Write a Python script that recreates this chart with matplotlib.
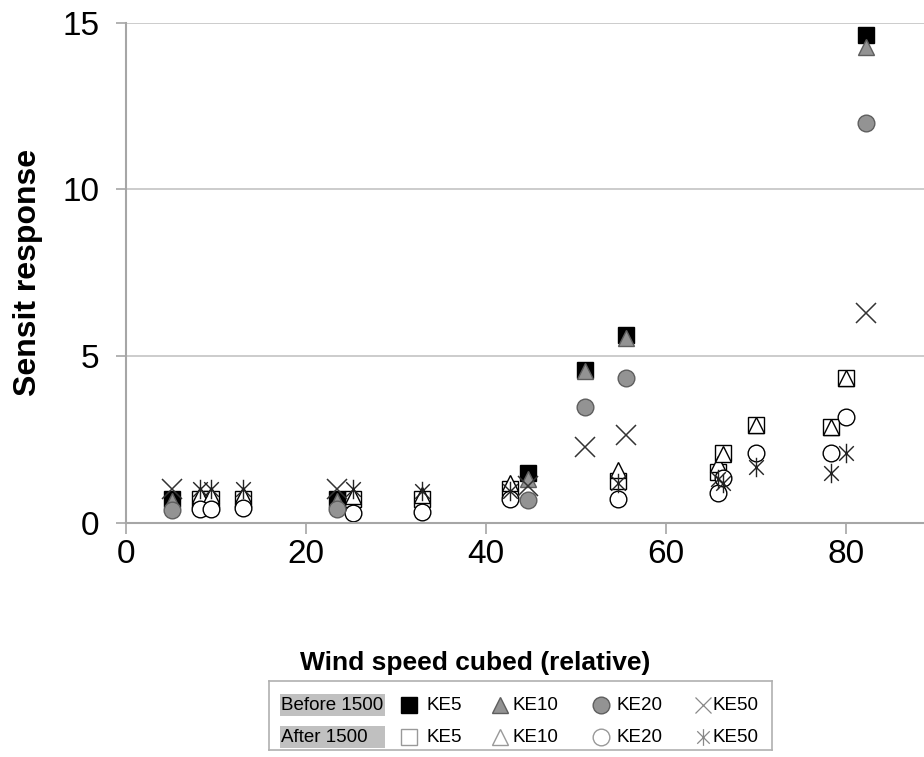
import matplotlib
matplotlib.use("Agg")
import matplotlib.pyplot as plt
from matplotlib.path import Path
from matplotlib.patches import Rectangle

plt.rcParams['font.family'] = ['Liberation Sans', 'DejaVu Sans']

# before 1500 (filled markers)
before_x = [5.1, 23.4, 44.7, 51.0, 55.6, 82.3]
before_ke5 = [0.72, 0.72, 1.50, 4.58, 5.63, 14.63]
before_ke10 = [0.65, 0.65, 1.30, 4.55, 5.55, 14.28]
before_ke20 = [0.38, 0.42, 0.68, 3.48, 4.34, 12.0]
before_ke50 = [1.0, 1.0, 1.1, 2.28, 2.63, 6.29]

# after 1500 (open markers)
after_x = [8.2, 9.5, 13.0, 25.2, 32.9, 42.7, 54.7, 65.8, 66.4, 70.0, 78.4, 80.0]
after_ke5 = [0.7, 0.7, 0.7, 0.72, 0.72, 1.0, 1.25, 1.53, 2.08, 2.93, 2.88, 4.34]
after_ke10 = [0.82, 0.82, 0.82, 0.8, 0.82, 1.2, 1.58, 1.75, 2.05, 2.93, 2.88, 4.34]
after_ke20 = [0.42, 0.42, 0.45, 0.3, 0.33, 0.72, 0.7, 0.88, 1.35, 2.09, 2.09, 3.18]
after_ke50 = [1.0, 1.0, 1.0, 1.02, 0.95, 0.95, 1.18, 1.3, 1.2, 1.68, 1.48, 2.09]

x_ticks = [0, 20, 40, 60, 80]
y_ticks = [0, 5, 10, 15]

GRAY = '#939393'
GRAY_EDGE = '#5e5e5e'

# asterisk: vertical bar plus an X
star = Path([(0, -1), (0, 1), (-0.75, -0.75), (0.75, 0.75), (-0.75, 0.75), (0.75, -0.75)],
            [Path.MOVETO, Path.LINETO, Path.MOVETO, Path.LINETO, Path.MOVETO, Path.LINETO])

styles_before = [
    dict(marker='s', color='black', mec='black', ms=11),
    dict(marker='^', color=GRAY, mec=GRAY_EDGE, ms=12),
    dict(marker='o', color=GRAY, mec=GRAY_EDGE, ms=12),
    dict(marker='x', color='#333333', ms=14, mew=1.1),
]
styles_after = [
    dict(marker='s', mfc='white', mec='black', ms=11, mew=1.0),
    dict(marker='^', mfc='white', mec='black', ms=12, mew=1.0),
    dict(marker='o', mfc='white', mec='black', ms=12, mew=1.0),
    dict(marker=star, color='#222222', ms=14, mew=1.0),
]

fig = plt.figure(figsize=(9.24, 7.57), dpi=100)
ax = fig.add_axes([0.1364, 0.3095, 0.8636, 0.6605])

for ys, st in zip([after_ke5, after_ke10, after_ke20, after_ke50], styles_after):
    ax.plot(after_x, ys, ls='none', clip_on=False, **st)
for ys, st in zip([before_ke5, before_ke10, before_ke20, before_ke50], styles_before):
    ax.plot(before_x, ys, ls='none', clip_on=False, **st)

ax.set_xlim(0, 88.7)
ax.set_ylim(0, 15)
ax.set_xticks(x_ticks)
ax.set_yticks(y_ticks)
ax.yaxis.grid(True, color='#c4c4c4', lw=1.2)
ax.set_axisbelow(True)
for s in ['top', 'right']:
    ax.spines[s].set_visible(False)
for s in ['left', 'bottom']:
    ax.spines[s].set_color('#a6a6a6')
    ax.spines[s].set_linewidth(1.5)
ax.tick_params(axis='both', colors='#a6a6a6', labelcolor='black', labelsize=24, width=1.2)
ax.tick_params(axis='x', length=8, pad=4)
ax.tick_params(axis='y', length=7, pad=12)

ax.set_xlabel('Wind speed cubed (relative)', fontsize=19, fontweight='bold', va='center')
ax.xaxis.set_label_coords((475 - 126) / 798, (522.7 - 663) / 500)
ax.set_ylabel('Sensit response', fontsize=23, fontweight='bold', labelpad=14)

# legend box drawn by hand
lg = fig.add_axes([269 / 924, 1 - 750 / 757, (772 - 269) / 924, (750 - 681) / 757])
lg.set_xlim(269, 772)
lg.set_ylim(750, 681)
lg.set_xticks([])
lg.set_yticks([])
for s in lg.spines.values():
    s.set_color('#b0b0b0')
    s.set_linewidth(1.2)

rows = [(705, 'Before 1500', styles_before), (737, 'After 1500', styles_after)]
names = ['KE5', 'KE10', 'KE20', 'KE50']
mark_x = [409, 500, 601, 703]
text_x = [427, 512, 617, 713]
for yy, lab, sts in rows:
    lg.add_patch(Rectangle((280, yy - 11), 105, 22, color='#c0c0c0', lw=0))
    lg.text(281, yy + 1, lab, fontsize=13.5, va='center', ha='left')
    for mx, tx, nm, st in zip(mark_x, text_x, names, sts):
        st2 = dict(st)
        if st2['marker'] in ('x',) or st2['marker'] is star:
            st2['color'] = '#888888'
            st2['mew'] = 0.9
            st2['ms'] = 12
        elif st2.get('mfc') == 'white':
            st2['mec'] = '#999999'
        lg.plot([mx], [yy], ls='none', **st2)
        lg.text(tx, yy + 1, nm, fontsize=13.5, va='center', ha='left')

fig.savefig('out.png', dpi=100)
